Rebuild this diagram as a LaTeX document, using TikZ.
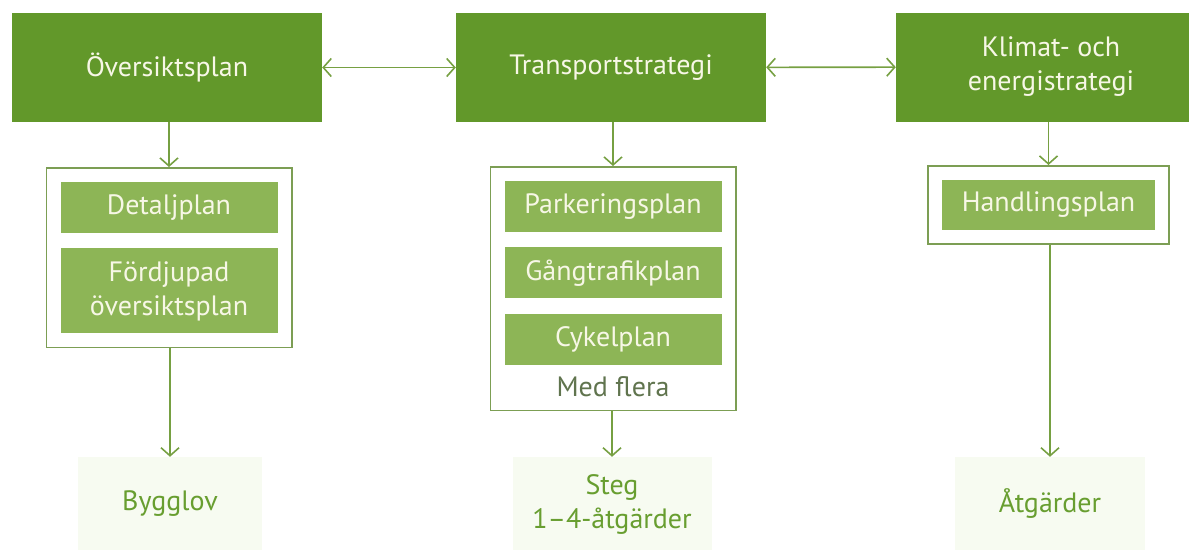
\documentclass[tikz,border=0pt]{standalone}
\usepackage{fontspec}
\setmainfont{PT Sans}
\usepackage{xcolor}
\usepackage{tikz}
\usetikzlibrary{arrows.meta, positioning, fit}
\definecolor{stratgreen}{RGB}{98,152,42}
\definecolor{plangreen}{RGB}{141,181,86}
\definecolor{framegreen}{RGB}{124,158,84}
\definecolor{arrowgreen}{RGB}{118,160,66}
\definecolor{resultgreen}{RGB}{104,158,48}
\definecolor{resultfill}{RGB}{247,251,241}
\definecolor{notegray}{RGB}{96,116,78}
\definecolor{boxtext}{RGB}{247,247,230}
\newcommand{\boxfont}{\fontsize{28}{34}\selectfont}
\tikzstyle{strategy} = [rectangle, minimum width=310pt, minimum height=109pt, text centered, align=center, fill=stratgreen, text=boxtext, font=\boxfont]
\tikzstyle{plan} = [rectangle, minimum width=217pt, minimum height=51pt, inner sep=0pt, text centered, align=center, fill=plangreen, text=boxtext, font=\boxfont]
\tikzstyle{frame} = [rectangle, draw=framegreen, line width=1.6pt, inner sep=14pt]
\tikzstyle{result} = [rectangle, minimum width=190pt, minimum height=94pt, text centered, align=center, fill=resultfill, text=resultgreen, font=\boxfont]
\tikzstyle{note} = [text=notegray, font=\boxfont, inner sep=0pt]
\tikzstyle{arrow} = [draw=arrowgreen, line width=1.6pt, ->, >={Straight Barb[length=8pt,width=18pt]}]
\tikzstyle{twoway} = [arrow, <->]

\begin{document}
\begin{tikzpicture}[x=1pt, y=-1pt]
				\useasboundingbox (0,0) rectangle (1189,549);
				
				% Strategy level
				\node (oversikt) [strategy] at (167,67.5) {Översiktsplan};
				\node (transport) [strategy] at (611,67.5) {Transportstrategi};
				\node (klimat) [strategy] at (1051,67) {Klimat- och\\energistrategi};
				
				% Plans under Översiktsplan
				\node (detalj) [plan] at (169,207.5) {Detaljplan};
				\node (fordjupad) [plan, minimum height=85pt, below=15pt of detalj] {Fördjupad\\översiktsplan};
				\node (oversiktframe) [frame, fit=(detalj)(fordjupad)] {};
				
				% Plans under Transportstrategi
				\node (parkering) [plan] at (613,206.5) {Parkeringsplan};
				\node (gangtrafik) [plan, below=15pt of parkering] {Gångtrafikplan};
				\node (cykel) [plan, below=15pt of gangtrafik] {Cykelplan};
				\node (medflera) [note, below=11pt of cykel] {Med flera};
				\node (transportframe) [frame, fit=(parkering)(cykel)(medflera)] {};
				
				% Plans under Klimat- och energistrategi
				\node (handling) [plan, minimum width=213pt, minimum height=50pt] at (1048.5,205) {Handlingsplan};
				\node (klimatframe) [frame, fit=(handling)] {};
				
				% Results
				\node (bygglov) [result, minimum width=184pt] at (170,504) {Bygglov};
				\node (steg) [result, minimum width=199pt] at (612,504) {Steg\\1--4-åtgärder};
				\node (atgarder) [result] at (1050,504) {Åtgärder};
				
				% Arrows between strategies
				\draw [twoway] (oversikt) -- (transport);
				\draw [twoway] (transport) -- (klimat);
				
				% Arrows down to the plans
				\draw [arrow] (oversikt.south -| oversiktframe.north) -- (oversiktframe.north);
				\draw [arrow] (transport.south -| transportframe.north) -- (transportframe.north);
				\draw [arrow] (klimat.south -| klimatframe.north) -- (klimatframe.north);
				
				% Arrows down to the results
				\draw [arrow] (oversiktframe.south -| bygglov.north) -- (bygglov.north);
				\draw [arrow] (transportframe.south -| steg.north) -- (steg.north);
				\draw [arrow] (klimatframe.south -| atgarder.north) -- (atgarder.north);
				
			\end{tikzpicture}
\end{document}
